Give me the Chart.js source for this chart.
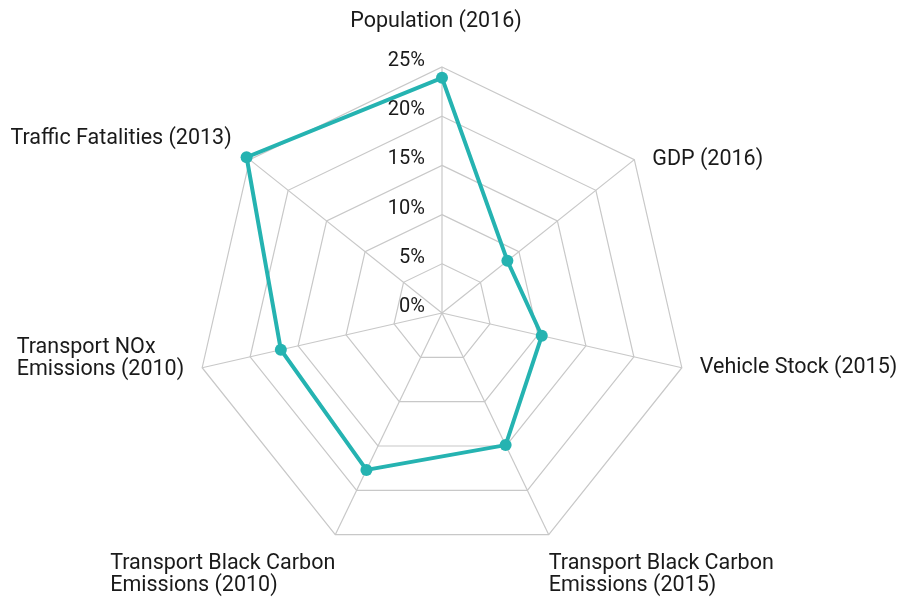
<!DOCTYPE html>
<html>
<head>
<meta charset="utf-8">
<script src="https://cdn.jsdelivr.net/npm/chart.js@4"></script>
<style>
  html, body { margin: 0; padding: 0; background: #fff; }
  #wrap { width: 899px; height: 597px; position: relative; }
</style>
</head>
<body>
<div id="wrap"><canvas id="radarChart"></canvas></div>
<script>
const indicators = [
    'Population (2016)',
    'GDP (2016)',
    'Vehicle Stock (2015)',
    ['Transport Black Carbon', 'Emissions (2015)'],
    ['Transport Black Carbon', 'Emissions (2010)'],
    ['Transport NOx', 'Emissions (2010)'],
    'Traffic Fatalities (2013)'
];
const shares = [23.9, 8.5, 10.4, 14.9, 17.7, 16.8, 25.4];
const tickValues = [0, 5, 10, 15, 20, 25];

// tick labels to the left of the vertical axis + point labels with left-aligned lines
const customLabels = {
    id: 'customLabels',
    afterDatasetsDraw(chart) {
        const scale = chart.scales.r;
        const ctx = chart.ctx;
        const cx = scale.xCenter, cy = scale.yCenter, R = scale.drawingArea;
        ctx.save();
        ctx.fillStyle = '#1a1a1a';

        ctx.font = '20px Roboto';
        ctx.textAlign = 'right';
        ctx.textBaseline = 'middle';
        tickValues.forEach(v => {
            const d = scale.getDistanceFromCenterForValue(v);
            ctx.fillText(v + '%', cx - 17, cy - d - 6);
        });

        ctx.font = '21.5px Roboto';
        ctx.textAlign = 'left';
        const lineH = 22;
        indicators.forEach((lbl, i) => {
            const lines = Array.isArray(lbl) ? lbl : [lbl];
            const p = scale.getPointPosition(i, R);
            const s = Math.sin(p.angle + Math.PI / 2);  // + right, - left
            const c = Math.cos(p.angle + Math.PI / 2);  // + up, - down
            const w = Math.max(...lines.map(t => ctx.measureText(t).width));
            const h = lines.length * lineH;
            let x, top;
            if (Math.abs(s) < 0.05) {
                x = p.x - w / 2 - 6;
                top = p.y - 45 - h / 2;
            } else if (c < -0.8) {
                x = s > 0 ? p.x : p.x - w;
                top = p.y + 18;
            } else {
                x = s > 0 ? p.x + 18 : p.x - 18 - w;
                top = p.y - h / 2 - (s < 0 ? 12 + 14 * c : 0);
            }
            ctx.textBaseline = 'middle';
            lines.forEach((t, k) => ctx.fillText(t, x, top + lineH / 2 + k * lineH));
        });
        ctx.restore();
    }
};

const radarChart = new Chart(document.getElementById('radarChart'), {
    type: 'radar',
    data: {
        labels: indicators,
        datasets: [{
            data: shares,
            borderColor: '#25b3b1',
            backgroundColor: 'rgba(0,0,0,0)',
            borderWidth: 4,
            pointRadius: 6,
            pointBorderWidth: 0,
            pointBackgroundColor: '#25b3b1',
            pointBorderColor: '#25b3b1',
            tension: 0
        }]
    },
    options: {
        responsive: true,
        maintainAspectRatio: false,
        animation: false,
        layout: { padding: { top: 67, bottom: 38, left: 0, right: 15 } },
        plugins: {
            legend: { display: false },
            tooltip: { enabled: false }
        },
        scales: {
            r: {
                min: 0,
                max: 25,
                ticks: { stepSize: 5, display: false },
                grid: { color: '#c8c8c8', lineWidth: 1.2 },
                angleLines: { color: '#c8c8c8', lineWidth: 1.2 },
                pointLabels: { display: false }
            }
        }
    },
    plugins: [customLabels]
});
</script>
</body>
</html>
